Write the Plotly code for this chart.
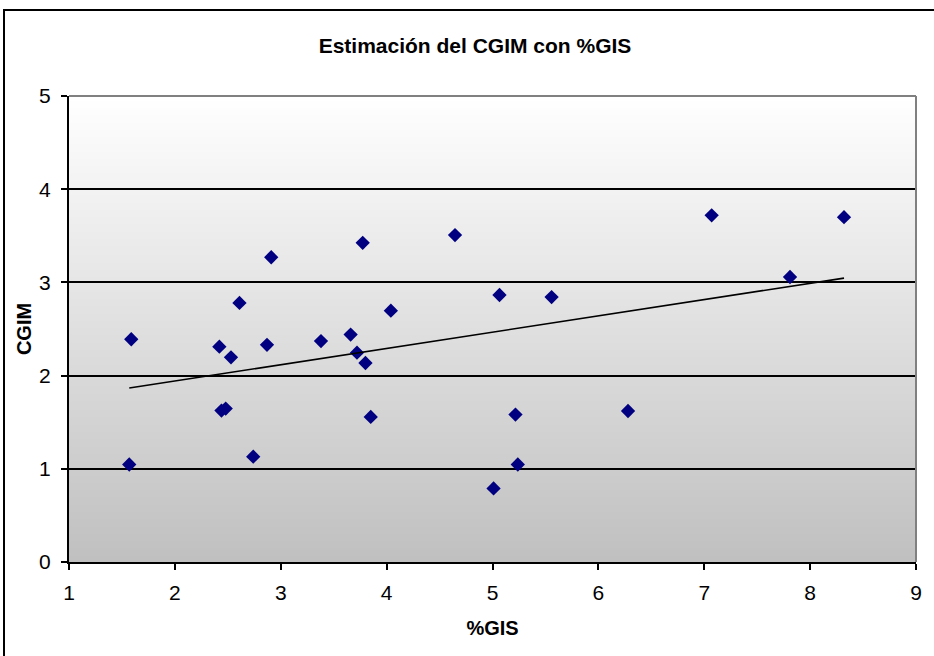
import base64
import struct
import zlib

import numpy as np
import plotly.graph_objects as go

# %GIS (x) and CGIM (y) observations
gis = [1.588, 1.569, 2.42, 2.53, 2.61, 2.91, 2.87, 2.44, 2.48, 2.74, 3.38, 3.66, 3.72, 3.80,
       3.774, 3.85, 4.646, 4.04, 5.066, 5.558, 5.217, 5.239, 5.01, 7.07, 8.32, 7.81, 6.28]
cgim = [2.39, 1.046, 2.31, 2.196, 2.78, 3.27, 2.33, 1.625, 1.646, 1.13, 2.37, 2.44, 2.246, 2.135,
        3.425, 1.557, 3.508, 2.697, 2.865, 2.843, 1.582, 1.046, 0.789, 3.72, 3.70, 3.058, 1.62]

chart_title = "Estimación del CGIM con %GIS"
x_label = "%GIS"
y_label = "CGIM"
x_ticks = [1, 2, 3, 4, 5, 6, 7, 8, 9]
y_ticks = [0, 1, 2, 3, 4, 5]

W, H = 934, 656
ML, MR, MT, MB = 69, 18, 96, 94
FONT = "Liberation Sans, Arial, sans-serif"


def gradient_png(top_rgb, bottom_rgb, height=256):
    """1-pixel-wide vertical gradient encoded as a PNG data URI."""
    raw = b""
    for i in range(height):
        t = i / (height - 1)
        raw += b"\x00" + bytes(round(a + (b - a) * t) for a, b in zip(top_rgb, bottom_rgb))

    def chunk(tag, data):
        return (struct.pack(">I", len(data)) + tag + data
                + struct.pack(">I", zlib.crc32(tag + data) & 0xFFFFFFFF))

    png = (b"\x89PNG\r\n\x1a\n"
           + chunk(b"IHDR", struct.pack(">IIBBBBB", 1, height, 8, 2, 0, 0, 0))
           + chunk(b"IDAT", zlib.compress(raw))
           + chunk(b"IEND", b""))
    return "data:image/png;base64," + base64.b64encode(png).decode()


# linear trend line
slope, intercept = np.polyfit(gis, cgim, 1)
trend_x = [min(gis), max(gis)]
trend_y = [slope * v + intercept for v in trend_x]

fig = go.Figure()
fig.add_trace(go.Scatter(
    x=gis, y=cgim, mode="markers",
    marker=dict(symbol="diamond", size=11, color="#000080", line=dict(width=0)),
    showlegend=False, hoverinfo="x+y",
))
fig.add_trace(go.Scatter(
    x=trend_x, y=trend_y, mode="lines",
    line=dict(color="black", width=1.6),
    showlegend=False, hoverinfo="skip",
))

# pixel -> paper helpers for the outer frame
pw, ph = W - ML - MR, H - MT - MB


def px_x(p):
    return (p - ML) / pw


def px_y(p):
    return (H - MB - p) / ph


fig.update_layout(
    width=W, height=H,
    margin=dict(l=ML, r=MR, t=MT, b=MB),
    paper_bgcolor="white",
    plot_bgcolor="rgba(0,0,0,0)",
    font=dict(family=FONT, size=21, color="black"),
    title=dict(text=chart_title, font=dict(family=FONT, size=21, color="black", weight="bold"),
               x=475 / W, xref="container", xanchor="center",
               y=1 - 46 / H, yref="container", yanchor="middle"),
    xaxis=dict(range=[x_ticks[0], x_ticks[-1]], tickvals=x_ticks, ticks="outside", ticklen=6,
               tickwidth=1.5, tickcolor="black", showline=True, linecolor="black", linewidth=2,
               showgrid=False, zeroline=False, ticklabelstandoff=5,
               title=dict(text=x_label, font=dict(size=20, weight="bold"), standoff=18)),
    yaxis=dict(range=[y_ticks[0], y_ticks[-1]], tickvals=y_ticks, ticks="outside", ticklen=6,
               tickwidth=1.5, tickcolor="black", showline=True, linecolor="black", linewidth=2,
               showgrid=True, gridcolor="black", gridwidth=1.5, zeroline=False,
               ticklabelstandoff=6,
               title=dict(text=y_label, font=dict(size=20, weight="bold"), standoff=2)),
    images=[dict(source=gradient_png((255, 255, 255), (192, 192, 192)),
                 xref="x", yref="y", x=x_ticks[0], y=y_ticks[-1],
                 sizex=x_ticks[-1] - x_ticks[0], sizey=y_ticks[-1] - y_ticks[0],
                 xanchor="left", yanchor="top", sizing="stretch", layer="below")],
    shapes=[
        # grey top and right edges of the plot area
        dict(type="line", xref="paper", yref="paper", x0=0, x1=1, y0=1, y1=1,
             line=dict(color="#808080", width=2)),
        dict(type="line", xref="paper", yref="paper", x0=1, x1=1, y0=0, y1=1,
             line=dict(color="#808080", width=2)),
        # outer chart frame
        dict(type="rect", xref="paper", yref="paper",
             x0=px_x(4), x1=px_x(960), y0=px_y(680), y1=px_y(10),
             line=dict(color="black", width=2), fillcolor="rgba(0,0,0,0)"),
    ],
)

fig.write_html("out.html")
